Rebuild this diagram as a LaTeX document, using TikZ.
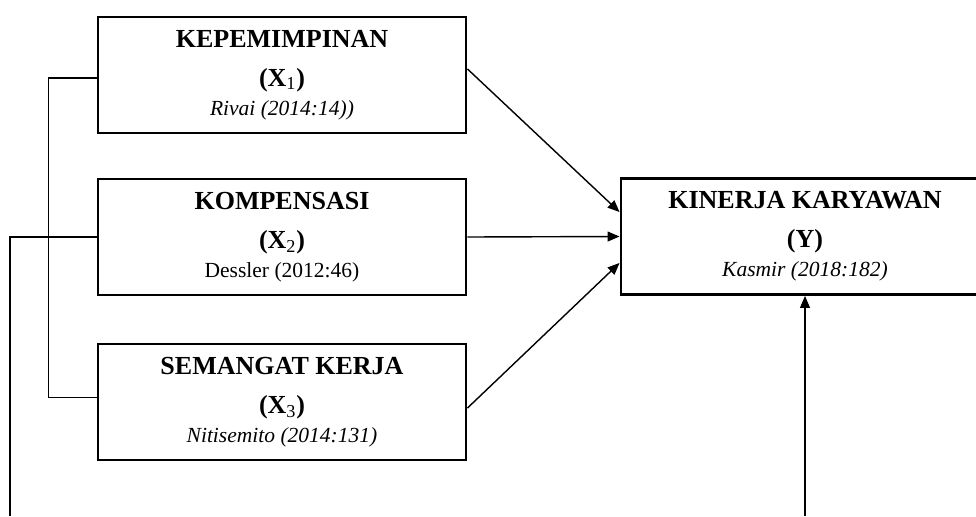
\documentclass[tikz,border=0pt]{standalone}
\usepackage{fontspec}
\setmainfont{Liberation Serif}
\usetikzlibrary{arrows.meta}

\newcommand{\headfont}{\fontsize{18.5}{20}\selectfont\bfseries}
\newcommand{\citefont}{\fontsize{15.3}{18}\selectfont}

\tikzset{
  varbox/.style={draw, line width=2pt, minimum width=9.2cm, minimum height=2.9cm,
    inner sep=0pt, align=center, font=\fontsize{18.5}{20}\selectfont},
  link/.style={line width=1pt},
}

\begin{document}
\begin{tikzpicture}[x=0.025cm, y=-0.025cm, >={Triangle[length=8.5pt,width=7pt]}]
    \useasboundingbox (0, 0) rectangle (976, 516);

    % independent variables
    \node[varbox] (x1) at (282, 75) {{\headfont KEPEMIMPINAN}\\[7.7pt]
        {\headfont (X\textsubscript{\mdseries 1})}\\[0.6pt]
        {\citefont\itshape Rivai (2014:14))}};
    \node[varbox] (x2) at (282, 237) {{\headfont KOMPENSASI}\\[7.7pt]
        {\headfont (X\textsubscript{\mdseries 2})}\\[0.6pt]
        {\citefont Dessler (2012:46)}};
    \node[varbox] (x3) at (282, 402) {{\headfont SEMANGAT KERJA}\\[7.7pt]
        {\headfont (X\textsubscript{\mdseries 3})}\\[0.6pt]
        {\citefont\itshape Nitisemito (2014:131)}};

    % dependent variable
    \node[varbox] (y) at (805, 236.5) {{\headfont KINERJA KARYAWAN}\\[7.7pt]
        {\headfont (Y)}\\[0.6pt]
        {\citefont\itshape Kasmir (2018:182)}};

    % partial effects
    \draw[link, ->] ([yshift=4.3pt]x1.east) -- ([yshift=17.4pt]y.west);
    \draw[link, ->] (x2.east) -- (y.west);
    \draw[link, ->] ([yshift=-4.3pt]x3.east) -- ([yshift=-18.8pt]y.west);

    % X1 and X3 together
    \draw[link] ([yshift=-2pt]x1.west) -- ++(-48, 0) |- ([yshift=3pt]x3.west);

    % X2 and the joint line into Y
    \coordinate (x2end) at (10, 516);
    \coordinate (yend) at (805, 516);
    \draw[link] (x2.west) -| (x2end);
    \draw[link, ->] (yend) -- (y.south);
\end{tikzpicture}
\end{document}
